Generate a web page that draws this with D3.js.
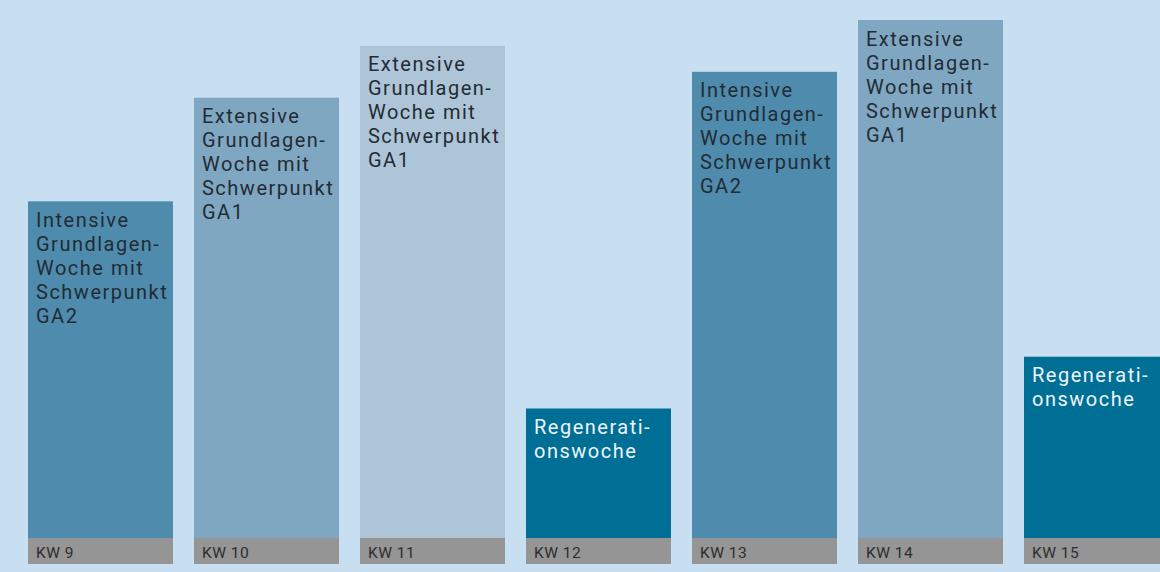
<!DOCTYPE html>
<html>
<head>
<meta charset="utf-8">
<script src="https://cdn.jsdelivr.net/npm/d3@7"></script>
<style>
  body { margin: 0; background: #c8dff2; }
  svg { display: block; }
</style>
</head>
<body>
<script>
//////////////// Daten ////////////////////
var weeks = ["KW 9", "KW 10", "KW 11", "KW 12", "KW 13", "KW 14", "KW 15"];
var load = [65, 85, 95, 25, 90, 100, 35];
var types = ["intensiv", "extensiv", "extensivLeicht", "regeneration",
             "intensiv", "extensiv", "regeneration"];
var labels = [
  ["Intensive", "Grundlagen-", "Woche mit", "Schwerpunkt", "GA2"],
  ["Extensive", "Grundlagen-", "Woche mit", "Schwerpunkt", "GA1"],
  ["Extensive", "Grundlagen-", "Woche mit", "Schwerpunkt", "GA1"],
  ["Regenerati-", "onswoche"],
  ["Intensive", "Grundlagen-", "Woche mit", "Schwerpunkt", "GA2"],
  ["Extensive", "Grundlagen-", "Woche mit", "Schwerpunkt", "GA1"],
  ["Regenerati-", "onswoche"]
];

var width = 1160, height = 572;
var baseY = 538, bandH = 26;

var fillColor = {
  intensiv: "#4f8bac",
  extensiv: "#80a7c2",
  extensivLeicht: "#aec5d7",
  regeneration: "#006f96"
};
var textColor = {
  intensiv: "#222c35",
  extensiv: "#222c35",
  extensivLeicht: "#222c35",
  regeneration: "#eef4f8"
};

var data = weeks.map(function(w, i) {
  return {week: w, value: load[i], type: types[i], lines: labels[i]};
});

////////////////// Skalen ////////////
var xScale = d3.scaleBand()
  .domain(weeks)
  .range([28, 1169])
  .paddingInner(0.1265)
  .paddingOuter(0);

var yScale = d3.scaleLinear()
  .domain([0, 100])
  .range([baseY, 20]);

//////////////// SVG ////////////////////
var svg = d3.select("body")
  .append("svg")
  .attr("width", width)
  .attr("height", height);

svg.append("rect")
  .attr("width", width)
  .attr("height", height)
  .attr("fill", "#c8dff2");

var bar = svg.selectAll("g.bar")
  .data(data)
  .enter()
  .append("g")
  .attr("class", "bar")
  .attr("transform", function(d) { return "translate(" + xScale(d.week) + ",0)"; });

// Balken
bar.append("rect")
  .attr("y", function(d) { return yScale(d.value); })
  .attr("width", xScale.bandwidth())
  .attr("height", function(d) { return baseY - yScale(d.value); })
  .attr("fill", function(d) { return fillColor[d.type]; });

// graues Band unten
bar.append("rect")
  .attr("y", baseY)
  .attr("width", xScale.bandwidth())
  .attr("height", bandH)
  .attr("fill", "#959595");

bar.append("text")
  .attr("x", 8)
  .attr("y", baseY + 19.5)
  .attr("font-family", "Roboto, sans-serif")
  .attr("font-size", 15.5)
  .attr("letter-spacing", 0.5)
  .attr("fill", "#2e2e2e")
  .text(function(d) { return d.week; });

// Beschriftung im Balken
bar.append("text")
  .attr("font-family", "Roboto, sans-serif")
  .attr("font-size", 20)
  .attr("letter-spacing", 1.5)
  .attr("fill", function(d) { return textColor[d.type]; })
  .selectAll("tspan")
  .data(function(d) {
    return d.lines.map(function(l, j) { return {text: l, y: yScale(d.value) + 25.5 + j * 24}; });
  })
  .enter()
  .append("tspan")
  .attr("x", 8)
  .attr("y", function(t) { return t.y; })
  .text(function(t) { return t.text; });
</script>
</body>
</html>
